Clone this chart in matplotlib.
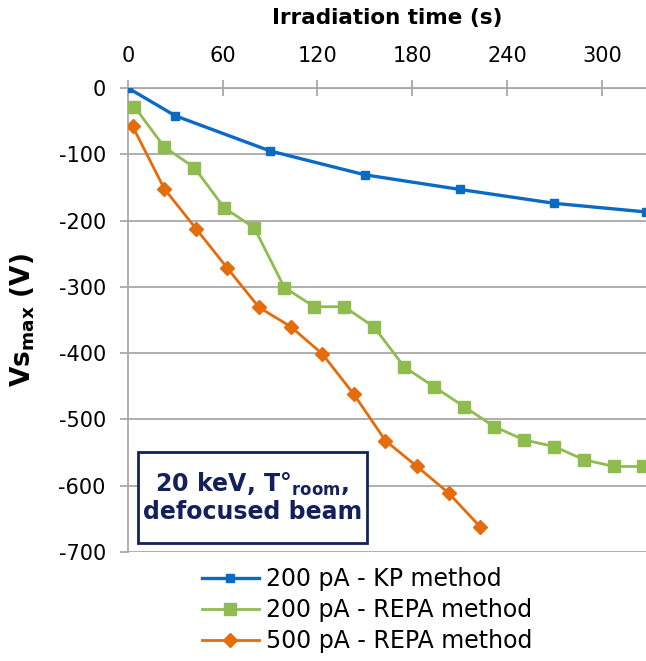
import matplotlib
matplotlib.use("Agg")
import matplotlib.pyplot as plt
from matplotlib.patches import Rectangle

plt.rcParams["axes.unicode_minus"] = False

# series
kp_time = [0, 30, 90, 150, 210, 270, 328]
kp_vs = [0, -42, -95, -131, -153, -174, -187]

repa200_time = [4, 23, 42, 61, 80, 99, 118, 137, 156, 175, 194, 213, 232, 251, 270, 289, 308, 326]
repa200_vs = [-28, -89, -120, -181, -211, -301, -330, -330, -361, -421, -451, -481, -511, -531, -541, -561, -571, -571]

repa500_time = [3, 23, 43, 63, 83, 103, 123, 143, 163, 183, 203, 223]
repa500_vs = [-58, -152, -212, -272, -331, -360, -401, -462, -532, -571, -611, -662]

labels = ["200 pA - KP method", "200 pA - REPA method", "500 pA - REPA method"]
x_ticks = [0, 60, 120, 180, 240, 300]
y_ticks = [0, -100, -200, -300, -400, -500, -600, -700]

blue = "#0a6ac4"
green = "#8fbc4f"
orange = "#e46c0a"
navy = "#14205c"
grid = "#a8a8a8"

fig = plt.figure(figsize=(6.46, 6.61), dpi=100)
ax = fig.add_axes([0.1981, 0.1649, 0.8019, 0.702])

ax.plot(kp_time, kp_vs, color=blue, lw=2.4, marker="s", ms=6, label=labels[0], zorder=5)
ax.plot(repa200_time, repa200_vs, color=green, lw=2.0, marker="s", ms=8, label=labels[1], zorder=4)
ax.plot(repa500_time, repa500_vs, color=orange, lw=2.0, marker="D", ms=7, label=labels[2], zorder=4)

ax.set_xlim(0, 328)
ax.set_ylim(-700, 0)
ax.set_xticks(x_ticks)
ax.set_yticks(y_ticks)
ax.xaxis.tick_top()
ax.xaxis.set_label_position("top")
ax.yaxis.grid(True, color=grid, lw=1.3)
ax.set_axisbelow(True)
for side in ["right", "bottom"]:
    ax.spines[side].set_visible(False)
for side in ["left", "top"]:
    ax.spines[side].set_color(grid)
    ax.spines[side].set_linewidth(1.3)

ax.tick_params(axis="x", direction="inout", length=12, width=1.3, color=grid,
               labelsize=15, pad=10)
ax.tick_params(axis="y", direction="out", length=6, width=1.3, color=grid,
               labelsize=15, pad=10)

ax.set_xlabel("Irradiation time (s)", fontsize=15.5, fontweight="bold", labelpad=16)
ax.set_ylabel(r"Vs$_\mathbf{max}$ (V)", fontsize=19, fontweight="bold")
ax.yaxis.set_label_coords(-0.175, 0.5)

# annotation box
ax.add_patch(Rectangle((0.019, 0.019), 0.442, 0.196, transform=ax.transAxes,
                       facecolor="white", edgecolor=navy, lw=2, zorder=6))
ax.text(0.24, 0.118, "20 keV, T°$_\\mathbf{room}$,\ndefocused beam", transform=ax.transAxes,
        ha="center", va="center", fontsize=17, fontweight="bold", color=navy,
        linespacing=1.1, zorder=7)

fig.legend(loc="center", bbox_to_anchor=(0.568, 0.077), frameon=False, fontsize=17,
           handlelength=2.4, handletextpad=0.3, labelspacing=0.3, borderpad=0)

fig.savefig("out.png", dpi=100)
